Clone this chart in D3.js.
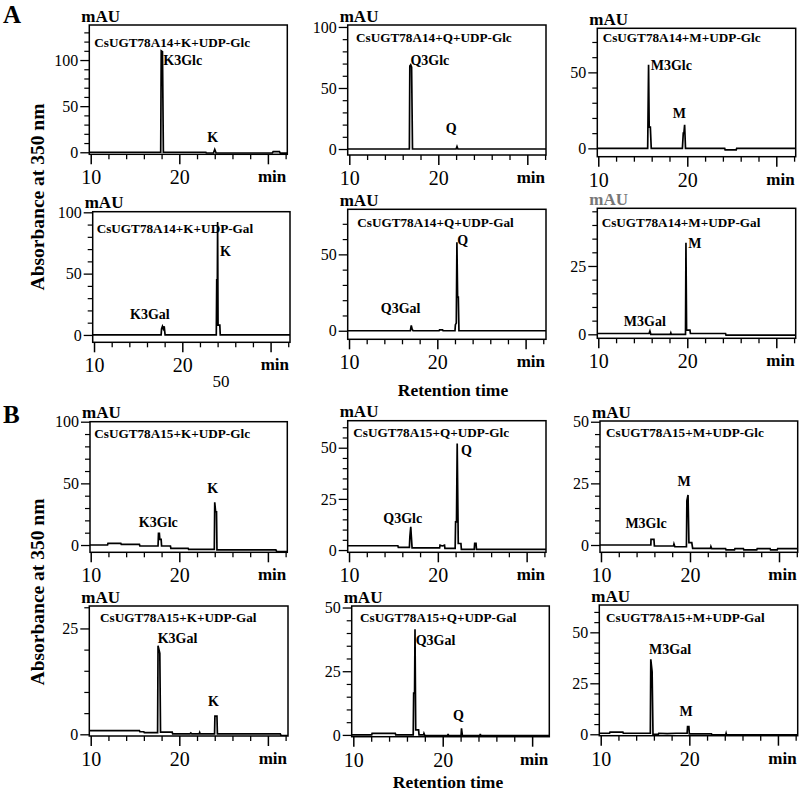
<!DOCTYPE html>
<html><head><meta charset="utf-8">
<script src="https://cdn.jsdelivr.net/npm/d3@7"></script>
<style>
body{margin:0;background:#fff}
svg{display:block}
text{font-family:"Liberation Serif","Times New Roman",serif;fill:#000}
</style>
</head><body>
<svg id="chart" width="800" height="792"></svg>
<script>
// ---------- DATA ----------
const panelTitles = [
  "CsUGT78A14+K+UDP-Glc","CsUGT78A14+Q+UDP-Glc","CsUGT78A14+M+UDP-Glc",
  "CsUGT78A14+K+UDP-Gal","CsUGT78A14+Q+UDP-Gal","CsUGT78A14+M+UDP-Gal",
  "CsUGT78A15+K+UDP-Glc","CsUGT78A15+Q+UDP-Glc","CsUGT78A15+M+UDP-Glc",
  "CsUGT78A15+K+UDP-Gal","CsUGT78A15+Q+UDP-Gal","CsUGT78A15+M+UDP-Gal"
];
const yUnit = "mAU";
const xUnit = "min";
const xTickLabels = [10, 20];
const xMajorTicks = [10, 20, 30];
const xMinorStep = 2;
const yMajorTicks = [
  [0,50,100],[0,50,100],[0,50],
  [0,50,100],[0,50],[0,25],
  [0,50,100],[0,25,50],[0,25,50],
  [0,25],[0,25,50],[0,25,50]
];
const yMinorStep = [10,10,10,10,10,5,10,5,5,5,5,5];
const yDomains = [
  [-2.2,138],[-4.9,101.6],[-5.5,79],
  [-6,100.5],[-5.6,79.5],[-1.46,46.1],
  [-5.9,100],[-1.1,63.2],[-2.96,50.3],
  [-0.4,30.3],[-0.7,50.6],[-0.7,63.4]
];
const xDomains = [
  [9.84,32.19],[9.82,32.1],[9.89,32.18],
  [9.85,32.2],[9.85,32.31],[9.89,32.18],
  [9.92,32.19],[9.85,32.18],[9.89,32.1],
  [9.84,32.27],[9.82,31.92],[9.84,32.23]
];

// traces: [retention time (min), absorbance (mAU)]
const traceA1 = [[9.8,0],[17.9,0],[17.96,110],[18.1,109],[18.2,0],[23.0,0],[23.05,-0.8],[23.85,-0.8],[24.0,3],[24.15,-0.8],[30.5,-0.8],[30.6,0.8],[31.3,0.8],[31.4,-1],[32.4,-1]];
const traceA2 = [[9.8,0],[16.75,0],[16.8,68],[16.9,69],[17.0,67],[17.1,0],[22.0,0],[22.1,2],[22.2,0],[32.4,0]];
const traceA3 = [[9.8,0],[15.55,0],[15.65,55],[15.72,14],[15.85,14],[15.95,0],[19.45,0],[19.55,10],[19.62,10],[19.7,15.5],[19.8,0],[24.2,0],[24.25,-1],[25.5,-1],[25.55,0],[32.4,0]];
const traceA4 = [[9.8,0],[17.6,0],[17.65,5],[17.75,7],[17.85,5],[17.95,7],[18.05,0],[23.85,0],[23.9,45],[23.97,45],[24.0,92],[24.05,8],[24.25,8],[24.3,0],[32.4,0]];
const traceA5 = [[9.8,0],[16.95,0],[17.05,3.5],[17.15,1],[17.25,0],[20.2,0],[20.25,0.6],[20.6,0.6],[20.65,0],[22.0,0],[22.05,4],[22.15,5],[22.22,58],[22.3,22],[22.38,22],[22.45,0],[32.4,0]];
const traceA6 = [[9.8,0.3],[15.7,0.3],[15.8,1.2],[15.9,0],[18.1,0],[18.15,0.5],[18.2,0],[19.8,0],[19.85,33.5],[19.92,1.5],[20.3,1.5],[20.35,0.3],[24.3,0.3],[24.35,-0.3],[32.4,-0.3]];
const traceB1 = [[9.8,0],[11.9,0],[11.95,1.3],[13.4,1.3],[13.45,0.5],[15.5,0.5],[15.55,-0.8],[17.6,-0.8],[17.65,9.5],[17.75,9.5],[17.8,4.6],[17.95,4.6],[18.0,-0.8],[19.0,-0.8],[19.05,-2.7],[21.0,-2.7],[21.05,-3.5],[23.95,-3.5],[24.0,34.6],[24.1,27],[24.2,27],[24.25,-4],[30.9,-4],[31.0,-5.4],[32.4,-5.4]];
const traceB2 = [[9.8,2.1],[15.5,2.1],[15.55,1.3],[16.8,1.3],[16.85,6.5],[16.95,11.4],[17.02,6.5],[17.1,1.1],[20.2,1.1],[20.25,2.4],[20.5,2.0],[20.75,2.4],[20.8,0.8],[21.95,0.8],[22.0,13.8],[22.1,13.8],[22.18,52],[22.3,3.2],[22.6,3.2],[22.65,0.3],[24.1,0.3],[24.15,3.3],[24.3,3.3],[24.35,0.3],[32.4,0.3]];
const traceB3 = [[9.8,0],[15.6,0],[15.62,2.3],[15.95,2.3],[16.0,-0.4],[18.15,-0.4],[18.2,0.4],[18.3,-0.7],[19.6,-0.7],[19.65,18],[19.78,20.3],[19.88,1],[20.2,1],[20.3,-1.35],[22.3,-1.35],[22.35,-0.6],[22.45,-1.5],[24.0,-1.5],[24.05,-2],[25.0,-2],[25.05,-1.5],[26.0,-1.5],[26.05,-2],[27.5,-2],[27.55,-1.5],[29.0,-1.5],[29.05,-2],[29.8,-2],[29.85,-1.5],[32.4,-1.5]];
const traceB4 = [[9.8,0.87],[15.5,0.87],[15.55,0.6],[16.0,0.6],[16.05,0.4],[17.55,0.4],[17.6,20.9],[17.8,19.1],[17.88,0.5],[19.2,0.5],[19.25,0.1],[21.2,0.1],[21.3,0.3],[21.4,0.1],[22.25,0.1],[22.3,0.4],[22.35,0.1],[23.98,0.1],[24.02,4.3],[24.25,4.3],[24.3,0.1],[31.4,0.1],[31.5,-0.3],[32.4,-0.3]];
const traceB5 = [[9.8,0],[12.05,0],[12.1,0.6],[14.7,0.6],[14.75,0],[16.7,0],[16.75,16.4],[16.85,16.4],[16.9,41.5],[16.98,2],[17.3,2],[17.35,0],[17.85,0],[17.9,0.6],[18.0,-0.3],[20.55,-0.3],[20.6,0.4],[20.65,-0.3],[22.05,-0.3],[22.1,2.6],[22.2,-0.3],[24.15,-0.3],[24.2,0.4],[24.25,-0.3],[32.4,-0.3]];
const traceB6 = [[9.8,0.5],[11.0,0.5],[11.05,1.1],[12.5,1.1],[12.55,0.5],[15.6,0.5],[15.65,36.8],[15.8,30.7],[15.9,0],[16.5,0],[16.55,0.5],[17.5,0.3],[18.5,0.5],[19.75,0.5],[19.8,3.8],[19.95,3.8],[20.0,0.2],[22.5,0.2],[22.55,-0.3],[24.1,-0.3],[24.15,0.5],[24.2,-0.3],[32.4,-0.3]];
const traces = [traceA1,traceA2,traceA3,traceA4,traceA5,traceA6,traceB1,traceB2,traceB3,traceB4,traceB5,traceB6];

// peak labels: [text, time, value, anchor]
const peakLabels = [
  [["K3Glc",18.19,94.6,"start"],["K",23.77,11.5,"middle"]],
  [["Q3Glc",16.87,68.9,"start"],["Q",21.45,12.8,"middle"]],
  [["M3Glc",15.89,51.5,"start"],["M",19.1,19.7,"middle"]],
  [["K3Gal",16.33,12.8,"middle"],["K",24.27,64.4,"start"]],
  [["Q3Gal",15.85,11.4,"middle"],["Q",22.26,56,"start"]],
  [["M3Gal",15.23,3.2,"middle"],["M",20.12,31.5,"start"]],
  [["K3Glc",17.63,14.8,"middle"],["K",23.77,42,"middle"]],
  [["Q3Glc",16.05,13,"middle"],["Q",22.6,46.4,"start"]],
  [["M3Glc",15.06,6.75,"middle"],["M",19.33,23.9,"middle"]],
  [["K3Gal",17.56,21.6,"start"],["K",23.84,6.7,"middle"]],
  [["Q3Gal",16.98,35.3,"start"],["Q",21.75,5.9,"middle"]],
  [["M3Gal",17.83,39.2,"middle"],["M",19.63,9.1,"middle"]]
];
const sectionLabels = ["A","B"];
const yAxisTitle = "Absorbance at 350 nm";
const xAxisTitle = "Retention time";
const strayLabel = "50";

// ---------- LAYOUT ----------
const boxes = [ // [left, top, right, bottom]
  [89.3,25,287.3,154.3],[347.7,25,546,155],[597.3,28.3,795.7,156.7],
  [92.7,211.7,290,342.3],[347.7,209.3,546,339.3],[597.3,208.3,795.7,338.3],
  [90,421.7,287.3,552.3],[347.7,420.7,546,552.3],[600,421,797.7,552.3],
  [89.3,606,288,736],[351.7,606,549.3,736.7],[599.3,605,797.7,735.7]
];
const titleOffsets = [[5,21.7],[8.3,17.2],[5.4,14],[4,21.6],[9.6,17.4],[4.4,18.4],[4.3,16.6],[5.6,16],[6,15.7],[10.7,15.7],[8.3,15.7],[6.7,16.7]];
const unitColors = ["#000","#000","#000","#000","#000","#777","#000","#000","#000","#000","#000","#000"];

const svg = d3.select("#chart");
const defs = svg.append("defs");

panelTitles.forEach((title, i) => {
  const [L,T,R,B] = boxes[i];
  const x = d3.scaleLinear().domain(xDomains[i]).range([L,R]);
  const y = d3.scaleLinear().domain(yDomains[i]).range([B,T]);
  const g = svg.append("g");

  defs.append("clipPath").attr("id","clip"+i)
    .append("rect").attr("x",L).attr("y",T).attr("width",R-L).attr("height",B-T);

  // trace
  const line = d3.line().x(d=>x(d[0])).y(d=>y(d[1]));
  g.append("path").datum(traces[i]).attr("d",line)
    .attr("clip-path","url(#clip"+i+")")
    .attr("fill","none").attr("stroke","#000").attr("stroke-width",1.7)
    .attr("stroke-linejoin","miter");

  // frame
  g.append("rect").attr("x",L).attr("y",T).attr("width",R-L).attr("height",B-T)
    .attr("fill","none").attr("stroke","#000").attr("stroke-width",1.5);

  // y axis ticks
  const ym = y.domain();
  const minors = d3.range(Math.ceil(ym[0]/yMinorStep[i])*yMinorStep[i], ym[1], yMinorStep[i])
    .filter(v => !yMajorTicks[i].includes(v));
  const yAx = d3.axisLeft(y).tickValues(yMajorTicks[i]).tickSize(9).tickPadding(2).tickFormat(d3.format("d"));
  const ya = g.append("g").attr("transform",`translate(${L},0)`).call(yAx);
  ya.select(".domain").remove();
  ya.selectAll("line").attr("stroke-width",1.3);
  ya.selectAll("text").attr("font-size",16).attr("font-family","Liberation Serif").attr("fill","#000");
  const yAxMinor = d3.axisLeft(y).tickValues(minors).tickSize(5).tickFormat("");
  const ym2 = g.append("g").attr("transform",`translate(${L},0)`).call(yAxMinor);
  ym2.select(".domain").remove();
  ym2.selectAll("line").attr("stroke-width",1.2);

  // x axis ticks
  const xm = x.domain();
  const xMinors = d3.range(Math.ceil(xm[0]/xMinorStep)*xMinorStep, xm[1], xMinorStep)
    .filter(v => !xMajorTicks.includes(v));
  const xAx = d3.axisBottom(x).tickValues(xMajorTicks).tickSize(10).tickPadding(6)
    .tickFormat(d => xTickLabels.includes(d) ? d : "");
  const xa = g.append("g").attr("transform",`translate(0,${B})`).call(xAx);
  xa.select(".domain").remove();
  xa.selectAll("line").attr("stroke-width",1.5);
  xa.selectAll("text").attr("font-size",20).attr("font-family","Liberation Serif").attr("fill","#000");
  const xAxMinor = d3.axisBottom(x).tickValues(xMinors).tickSize(5).tickFormat("");
  const xm2 = g.append("g").attr("transform",`translate(0,${B})`).call(xAxMinor);
  xm2.select(".domain").remove();
  xm2.selectAll("line").attr("stroke-width",1.3);

  // unit labels
  g.append("text").attr("x",R-1).attr("y",B+28).attr("text-anchor","end")
    .attr("font-size",17).attr("font-weight","bold").text(xUnit);
  g.append("text").attr("x",L-8).attr("y",T-3.5)
    .attr("font-size",17).attr("font-weight","bold").style("fill",unitColors[i]).text(yUnit);

  // panel title
  g.append("text").attr("x",L+titleOffsets[i][0]).attr("y",T+titleOffsets[i][1])
    .attr("font-size",13.2).attr("font-weight","bold").text(title);

  // peak labels
  peakLabels[i].forEach(p => {
    g.append("text").attr("x",x(p[1])).attr("y",y(p[2]))
      .attr("text-anchor",p[3]).attr("font-size",14).attr("font-weight","bold").text(p[0]);
  });
});

// section letters
svg.append("text").attr("x",3).attr("y",23).attr("font-size",25).attr("font-weight","bold").text(sectionLabels[0]);
svg.append("text").attr("x",3).attr("y",423).attr("font-size",25).attr("font-weight","bold").text(sectionLabels[1]);

// axis titles
[197, 592].forEach(cy => {
  svg.append("text").attr("transform",`translate(44,${cy}) rotate(-90)`)
    .attr("text-anchor","middle").attr("font-size",19.5).attr("font-weight","bold").text(yAxisTitle);
});
svg.append("text").attr("x",453).attr("y",396).attr("text-anchor","middle")
  .attr("font-size",17.5).attr("font-weight","bold").text(xAxisTitle);
svg.append("text").attr("x",448).attr("y",788).attr("text-anchor","middle")
  .attr("font-size",17.5).attr("font-weight","bold").text(xAxisTitle);
svg.append("text").attr("x",221).attr("y",387).attr("text-anchor","middle")
  .attr("font-size",17).text(strayLabel);
</script>
</body></html>
